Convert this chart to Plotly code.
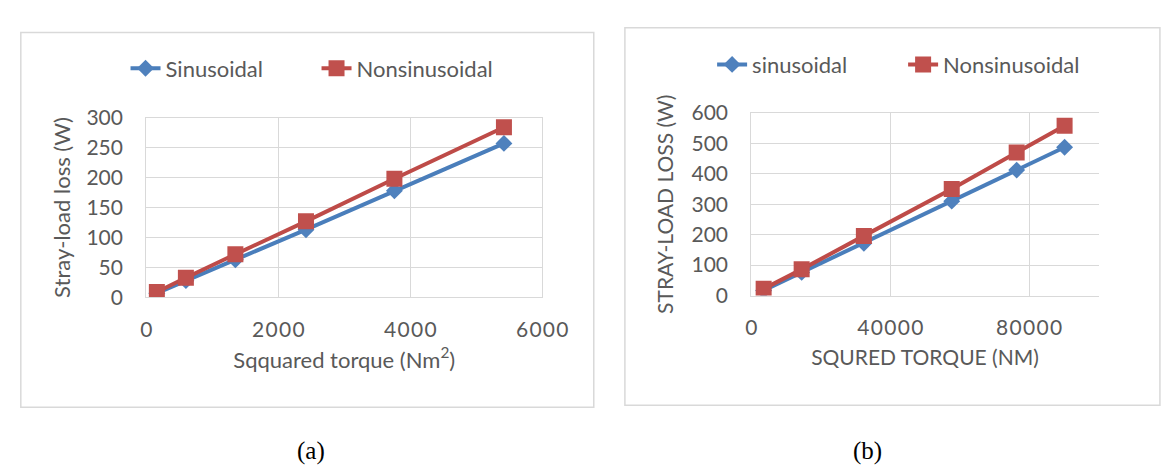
import plotly.graph_objects as go

# Panel (a)
a_torque_sq = [160, 600, 1350, 2420, 3760, 5420]
a_sin = [7, 28, 63, 113, 178, 257]
a_nonsin = [9, 33, 72, 127, 198, 284]
a_xticks = [0, 2000, 4000, 6000]

# Panel (b)
b_torque_sq = [3540, 14480, 32400, 57700, 76400, 90200]
b_sin = [17, 76, 172, 310, 412, 487]
b_nonsin = [22, 86, 196, 350, 470, 558]
b_xticks = [0, 40000, 80000]

BLUE_LINE = "#4A7EBB"
BLUE_MK = "#4F81BD"
RED_LINE = "#BE4B48"
RED_MK = "#C0504D"
GRID = "#D9D9D9"
TXT = "#595959"
FONT = "Lato"

W, H = 1175, 468

fig = go.Figure()


def add_pair(x, ys, yn, xa, ya, leg, sname):
    fig.add_trace(go.Scatter(
        x=x, y=ys, name=sname, mode="lines+markers", xaxis=xa, yaxis=ya, legend=leg,
        line=dict(color=BLUE_LINE, width=4),
        marker=dict(symbol="diamond", size=13, color=BLUE_MK, line=dict(width=0))))
    fig.add_trace(go.Scatter(
        x=x, y=yn, name="Nonsinusoidal", mode="lines+markers", xaxis=xa, yaxis=ya, legend=leg,
        line=dict(color=RED_LINE, width=4),
        marker=dict(symbol="square", size=16, color=RED_MK, line=dict(width=0))))


add_pair(a_torque_sq, a_sin, a_nonsin, "x", "y", "legend", "Sinusoidal")
add_pair(b_torque_sq, b_sin, b_nonsin, "x2", "y2", "legend2", "sinusoidal")


def px(xp):
    return xp / W


def py(yp):
    return 1 - yp / H


def spaced(v):
    return "\u200a".join(str(v))


axis_common = dict(gridcolor=GRID, gridwidth=1.3, zeroline=False, showline=True,
                   linecolor=GRID, linewidth=1.3, ticks="",
                   tickfont=dict(family=FONT, size=21, color=TXT), fixedrange=True)

fig.update_layout(
    width=W, height=H, margin=dict(l=0, r=0, t=0, b=0),
    paper_bgcolor="white", plot_bgcolor="white",
    font=dict(family=FONT, color=TXT),
    xaxis=dict(domain=[px(136), px(543)], range=[0, 6000],
               tickvals=a_xticks, ticktext=[spaced(v) for v in a_xticks],
               anchor="y", mirror=True, ticklabelstandoff=13,
               title=dict(text="Sqquared torque (Nm<sup>2</sup>)", standoff=12,
                          font=dict(family=FONT, size=22, color=TXT)), **axis_common),
    yaxis=dict(domain=[py(291), py(101)], range=[0, 300], dtick=50, anchor="x", mirror=True,
               ticklabelstandoff=18,
               title=dict(text="Stray-load loss (W)", standoff=9,
                          font=dict(family=FONT, size=22, color=TXT)), **axis_common),
    xaxis2=dict(domain=[px(758), px(1115)], range=[0, 100000],
                tickvals=b_xticks, ticktext=[spaced(v) for v in b_xticks],
                anchor="y2", mirror=True, ticklabelstandoff=13,
                title=dict(text="SQURED TORQUE (NM)", standoff=12,
                           font=dict(family=FONT, size=21, color=TXT)), **axis_common),
    yaxis2=dict(domain=[py(289), py(96)], range=[0, 600], dtick=100, anchor="x2", mirror=False,
                ticklabelstandoff=18,
                title=dict(text="STRAY-LOAD LOSS (W)", standoff=12,
                           font=dict(family=FONT, size=21, color=TXT)), **axis_common),
    legend=dict(orientation="h", x=px(311), y=py(49), xanchor="center", yanchor="middle",
                entrywidth=146, entrywidthmode="pixels",
                font=dict(family=FONT, size=22, color=TXT), bgcolor="rgba(0,0,0,0)"),
    legend2=dict(orientation="h", x=px(914), y=py(45), xanchor="center", yanchor="middle",
                 entrywidth=146, entrywidthmode="pixels",
                 font=dict(family=FONT, size=22, color=TXT), bgcolor="rgba(0,0,0,0)"),
    showlegend=True,
)

# chart frames
fig.add_shape(type="rect", xref="paper", yref="paper",
              x0=px(7), x1=px(596), y0=py(407), y1=py(11),
              line=dict(color=GRID, width=1.5), layer="below")
fig.add_shape(type="rect", xref="paper", yref="paper",
              x0=px(628), x1=px(1178), y0=py(405), y1=py(6),
              line=dict(color=GRID, width=1.5), layer="below")

# captions
for txt, xc in [("(a)", 305), ("(b)", 877)]:
    fig.add_annotation(text=txt, x=px(xc), y=py(453), xref="paper", yref="paper",
                       showarrow=False, xanchor="center", yanchor="middle",
                       font=dict(family="Liberation Serif", size=25, color="black"))

fig.write_html("out.html")
